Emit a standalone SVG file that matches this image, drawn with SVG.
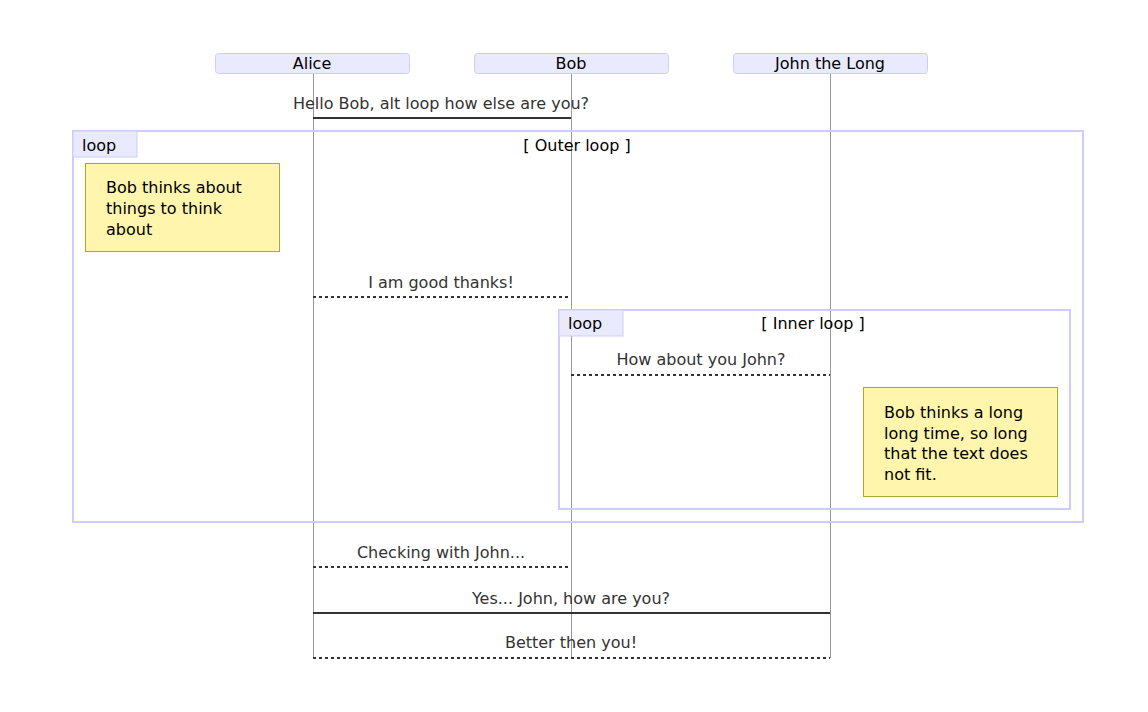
<svg xmlns="http://www.w3.org/2000/svg" width="1148" height="712" viewBox="0 0 1148 712">
<style>
text{font-family:"DejaVu Sans",sans-serif;font-size:16px}
.actor{fill:#eaeaff;stroke:#ccccff;stroke-width:1}
.actorText{fill:#000;text-anchor:middle;dominant-baseline:central}
.life{stroke:#999;stroke-width:1}
.msg{fill:#333;text-anchor:middle;dominant-baseline:central}
.solid{stroke:#333;stroke-width:2}
.dash{stroke:#333;stroke-width:2;stroke-dasharray:3 3}
.loop{fill:none;stroke:#ccccff;stroke-width:2}
.loopLbl{fill:#eaeaff;stroke:#ccccff;stroke-width:1}
.lt{fill:#000;dominant-baseline:central}
.note{fill:#fff5ad;stroke:#aaaa33;stroke-width:1}
.nt{fill:#000;dominant-baseline:central}
</style>
<rect width="1148" height="712" fill="#fff"/>
<g id="lifelines">
<line class="life" x1="313.5" y1="73" x2="313.5" y2="658"/>
<line class="life" x1="571.5" y1="73" x2="571.5" y2="658"/>
<line class="life" x1="830.5" y1="73" x2="830.5" y2="658"/>
</g>
<g id="alice"><rect class="actor" x="215.500" y="53.500" width="194" height="20" rx="3"/><text class="actorText" x="312" y="63">Alice</text></g>
<g id="bob"><rect class="actor" x="474.500" y="53.500" width="194" height="20" rx="3"/><text class="actorText" x="571" y="63">Bob</text></g>
<g id="john"><rect class="actor" x="733.500" y="53.500" width="194" height="20" rx="3"/><text class="actorText" x="830" y="63">John the Long</text></g>
<g id="outerLoop">
<rect class="loop" x="73" y="131" width="1010" height="391"/>
<rect class="loopLbl" x="73" y="131" width="64" height="26"/>
<text class="lt" x="82" y="145">loop</text>
<text class="lt" x="577" y="145" text-anchor="middle">[ Outer loop ]</text>
</g>
<g id="innerLoop">
<rect class="loop" x="559" y="310" width="511" height="199"/>
<rect class="loopLbl" x="559" y="310" width="64" height="26"/>
<text class="lt" x="568" y="323">loop</text>
<text class="lt" x="813" y="323" text-anchor="middle">[ Inner loop ]</text>
</g>
<g id="note1">
<rect class="note" x="85.500" y="163.500" width="194" height="88"/>
<text class="nt" x="106" y="187">Bob thinks about</text>
<text class="nt" x="106" y="208">things to think</text>
<text class="nt" x="106" y="229">about</text>
</g>
<g id="note2">
<rect class="note" x="863.500" y="387.500" width="194" height="109"/>
<text class="nt" x="884" y="412">Bob thinks a long</text>
<text class="nt" x="884" y="433">long time, so long</text>
<text class="nt" x="884" y="453">that the text does</text>
<text class="nt" x="884" y="474">not fit.</text>
</g>
<g id="connectors">
<line class="solid" x1="313" y1="118" x2="571" y2="118"/>
<line class="dash" x1="313" y1="297" x2="571" y2="297"/>
<line class="dash" x1="571" y1="375" x2="830" y2="375"/>
<line class="dash" x1="313" y1="567" x2="571" y2="567"/>
<line class="solid" x1="313" y1="613" x2="830" y2="613"/>
<line class="dash" x1="313" y1="658" x2="830" y2="658"/>
</g>
<g id="messageLabels">
<text class="msg" x="441" y="103">Hello Bob, alt loop how else are you?</text>
<text class="msg" x="441" y="282">I am good thanks!</text>
<text class="msg" x="701" y="359">How about you John?</text>
<text class="msg" x="441" y="552">Checking with John...</text>
<text class="msg" x="571" y="598">Yes... John, how are you?</text>
<text class="msg" x="571" y="642">Better then you!</text>
</g>
</svg>
